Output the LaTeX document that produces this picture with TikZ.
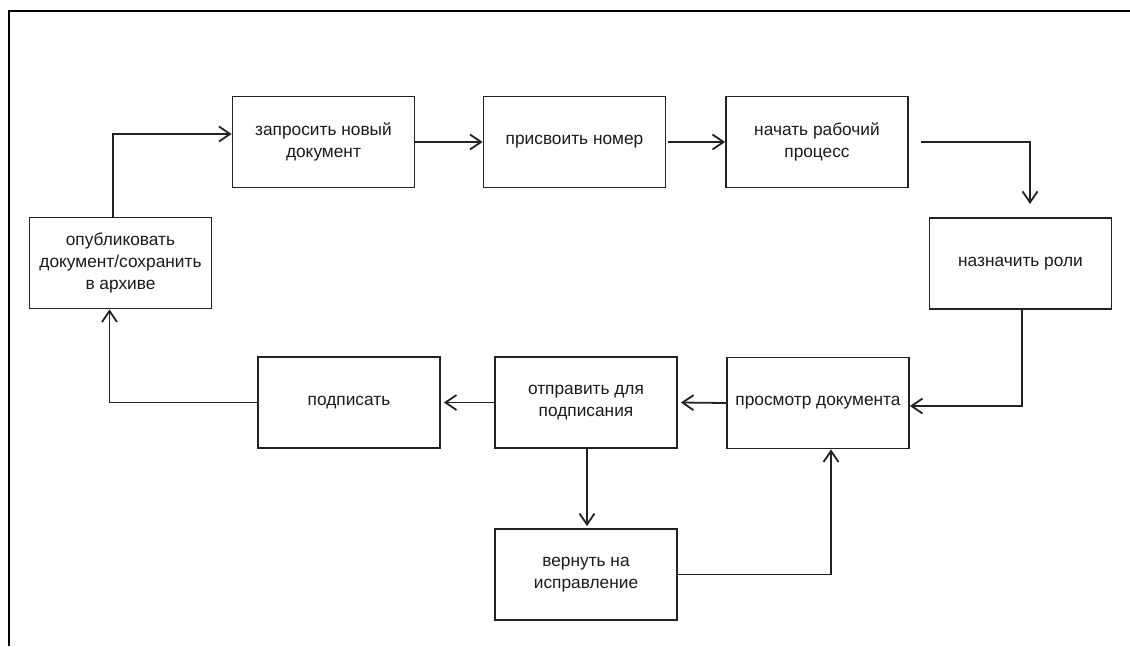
\documentclass[tikz,border=0pt]{standalone}
\usepackage{fontspec}
\setmainfont{Liberation Sans}
\usetikzlibrary{arrows.meta}
\definecolor{ln}{HTML}{222222}
\definecolor{tx}{HTML}{1A1A1A}
\begin{document}
\begin{tikzpicture}[x=1pt,y=-1pt,
  box/.style={draw=ln, line width=1.8pt, minimum width=182pt, minimum height=91pt,
    inner sep=0pt, align=center, text=tx, font=\fontsize{17.3}{22}\selectfont},
  conn/.style={draw=ln, line width=1.8pt, -{Straight Barb[length=11pt,width=15pt,line width=1.8pt]}},
  frame/.style={draw=black, line width=2pt}]
\useasboundingbox (0,0) rectangle (1130,646);
\draw[frame] (9,646) -- (9,11) -- (1130,11);

\node[box] (b1) at (323.5,142) {запросить новый\\документ};
\node[box] (b2) at (574.5,142) {присвоить номер};
\node[box] (b3) at (817,142) {начать рабочий\\процесс};
\node[box] (b4) at (1020.5,263.5) {назначить роли};
\node[box] (b5) at (120.5,263) {опубликовать\\документ/сохранить\\в архиве};
\node[box] (b6) at (349,402.5) {подписать};
\node[box] (b7) at (586,402.5) {отправить для\\подписания};
\node[box] (b8) at (818,403) {просмотр документа};
\node[box] (b9) at (586,574.5) {вернуть на\\исправление};

\coordinate (c3) at (921,142);
\coordinate (c4) at (1030,204);

\draw[conn] ([xshift=-7.5pt]b5.north) |- ([yshift=8pt]b1.west);
\draw[conn] (b1.east) -- (b2.west);
\draw[conn] ([xshift=2pt]b2.east) -- (b3.west);
\draw[conn] (c3) -| (c4);
\draw[conn] ([xshift=1.5pt]b4.south) |- ([yshift=-3pt]b8.east);
\draw[conn] (b8.west) -- ([xshift=3pt]b7.east);
\draw[conn] (b7.west) -- ([xshift=3pt]b6.east);
\draw[conn] (b6.west) -| ([xshift=-11pt]b5.south);
\draw[conn, shorten >=2pt] ([xshift=1pt]b7.south) -- ([xshift=1pt]b9.north);
\draw[conn] (b9.east) -| ([xshift=13pt]b8.south);
\end{tikzpicture}
\end{document}
